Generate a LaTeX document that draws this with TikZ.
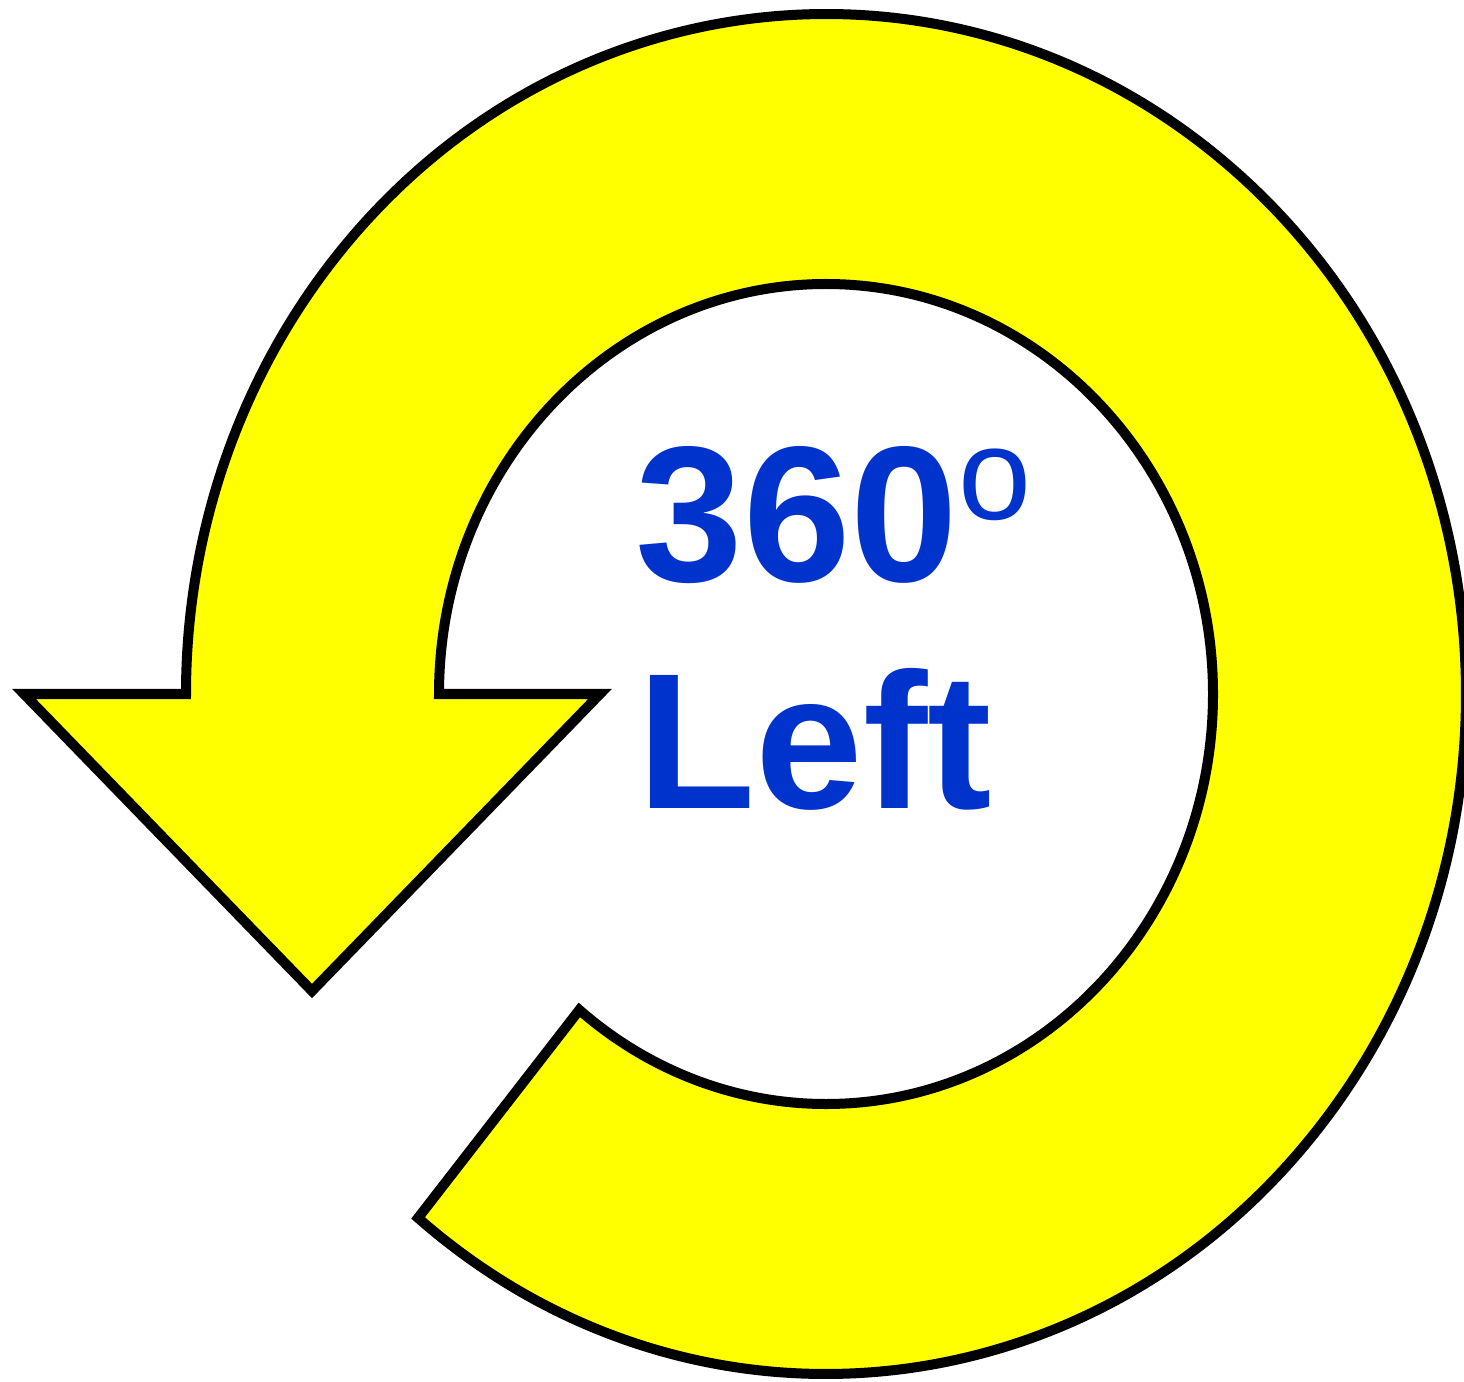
\documentclass[tikz,border=0pt]{standalone}
\usepackage{fontspec}
\setmainfont{Liberation Sans}
\definecolor{arrowyellow}{RGB}{255,255,0}
\definecolor{textblue}{RGB}{0,51,204}
\begin{document}
\begin{tikzpicture}[x=0.01cm,y=0.01cm,
  arrowshape/.style={draw=black,fill=arrowyellow,line width=0.1cm,line join=miter},
  bigtext/.style={inner sep=0pt,anchor=base west,text=textblue,font=\fontsize{55pt}{60pt}\selectfont\bfseries}]
\useasboundingbox (0,0) rectangle (1464,1381);
\fill[white] (0,0) rectangle (1464,1381);
\draw[arrowshape] (826,687) ++(230.4:640 and 680)
  arc[start angle=230.4, end angle=540, x radius=640, y radius=680]
  -- (24,687) -- (312,390) -- (600,687) -- (439,687)
  arc[start angle=180, end angle=-129.6, x radius=387, y radius=410]
  -- cycle;
\node[bigtext] (deg) at (635,799) {360\raisebox{0.62cm}{\fontsize{37.3pt}{40pt}\selectfont\mdseries o}};
\node[bigtext] (left) at (637,573) {Left};
\end{tikzpicture}
\end{document}
